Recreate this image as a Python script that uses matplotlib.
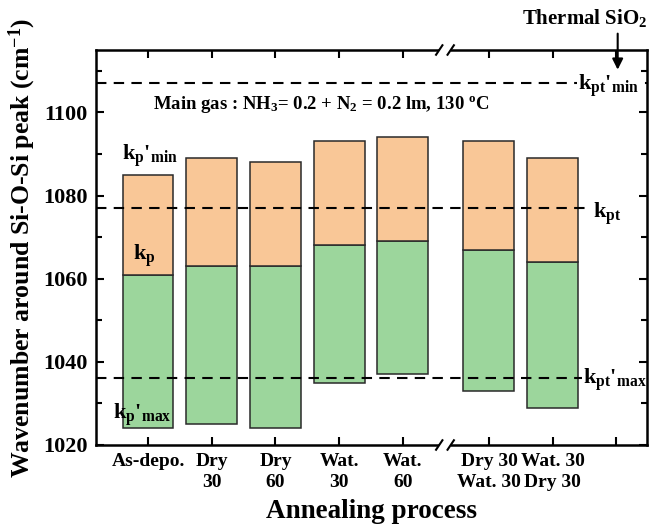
import numpy as np
import matplotlib; matplotlib.use('Agg')
import matplotlib.pyplot as plt
from matplotlib.ticker import MultipleLocator

plt.rcParams['font.family'] = ['Liberation Serif', 'DejaVu Serif']
plt.rcParams['font.weight'] = 'bold'
plt.rcParams['axes.labelweight'] = 'bold'
plt.rcParams['mathtext.fontset'] = 'custom'
plt.rcParams['mathtext.rm'] = 'Liberation Serif:bold'
plt.rcParams['mathtext.it'] = 'Liberation Serif:bold'
plt.rcParams['mathtext.bf'] = 'Liberation Serif:bold'

# ── data ─────────────────────────────────────────────────────────────────────
categories = ['As-depo.', 'Dry\n30', 'Dry\n60', 'Wat.\n30', 'Wat.\n60',
              'Dry 30\nWat. 30', 'Wat. 30\nDry 30', '']
kp_max = [1024, 1025, 1024, 1035, 1037, 1033, 1029]   # bottom of green
kp     = [1061, 1063, 1063, 1068, 1069, 1067, 1064]   # green / orange boundary
kp_min = [1085, 1089, 1088, 1093, 1094, 1093, 1089]   # top of orange

kpt_min_thermal = 1107
kpt_thermal     = 1077
kpt_max_thermal = 1036

# x positions (axis is broken between the 5th and 6th group)
xpos = np.array([1, 2, 3, 4, 5, 6.35, 7.35, 8.35])
BREAK_X = 5.66

ORANGE = '#F9C797'
GREEN  = '#9CD69C'
EDGE   = '#2a2a2a'

fig = plt.figure(figsize=(6.51, 5.29), dpi=100)
ax = fig.add_axes([96/651, 84/529, 551/651, 395/529])

n = len(kp)
xb = xpos[:n]
low = np.array(kp_max); mid = np.array(kp); high = np.array(kp_min)
ax.bar(xb, mid - low, bottom=low, width=0.8, color=GREEN, edgecolor=EDGE, lw=1.1, zorder=2)
ax.bar(xb, high - mid, bottom=mid, width=0.8, color=ORANGE, edgecolor=EDGE, lw=1.1, zorder=2)

# reference lines (thermal SiO2)
dash = (5, 3.5)
ax.axhline(kpt_min_thermal, color='k', lw=1.5, ls=(0, dash), zorder=1)
ax.axhline(kpt_thermal, xmax=0.897, color='k', lw=1.5, ls=(0, dash), zorder=3)
ax.axhline(kpt_max_thermal, xmax=0.882, color='k', lw=1.5, ls=(0, dash), zorder=3)

ax.set_xlim(0.184, 8.83)
ax.set_ylim(1020, 1115)

ax.set_xticks(xpos)
ax.set_xticklabels(categories, fontsize=14, linespacing=1.25)
ax.yaxis.set_major_locator(MultipleLocator(20))
ax.yaxis.set_minor_locator(MultipleLocator(10))
ax.tick_params(axis='both', which='both', direction='in', top=True, right=True, width=1.5)
ax.tick_params(axis='both', which='major', length=6, pad=6)
ax.tick_params(axis='y', which='major', labelsize=16)
ax.tick_params(axis='y', which='minor', length=4)
for sp in ax.spines.values():
    sp.set_linewidth(1.8)

ax.set_ylabel('Wavenumber around Si-O-Si peak (cm$^{-1}$)', fontsize=18.5, labelpad=4)
ax.set_xlabel('Annealing process', fontsize=19.5, labelpad=6)

# axis break marks on top and bottom spines
tr = ax.get_xaxis_transform()
for yy in (0, 1):
    ax.plot([BREAK_X - 0.1, BREAK_X + 0.1], [yy, yy], color='white', lw=4,
            transform=tr, clip_on=False, zorder=5, solid_capstyle='butt')
    for dx in (-0.09, 0.09):
        ax.plot([BREAK_X + dx - 0.05, BREAK_X + dx + 0.05], [yy - 0.012, yy + 0.012],
                color='k', lw=1.5, transform=tr, clip_on=False, zorder=6)

# annotations
ax.text(1.08, 1102, 'Main gas : NH$_3$= 0.2 + N$_2$ = 0.2 lm, 130 $^o$C',
        fontsize=13.5, va='center', ha='left')
ax.text(0.59, 1089.5, "k$_p$'$_{min}$", fontsize=16, va='center', ha='left')
ax.text(0.765, 1065.5, 'k$_p$', fontsize=16, va='center', ha='left')
ax.text(0.45, 1027.2, "k$_p$'$_{max}$", fontsize=16, va='center', ha='left', zorder=4)
ax.text(7.745, 1106.4, "k$_{pt}$'$_{min}$", fontsize=16, va='center', ha='left',
        bbox=dict(facecolor='white', edgecolor='none', pad=1), zorder=4)
ax.text(7.98, 1075.7, 'k$_{pt}$', fontsize=16, va='center', ha='left')
ax.text(7.82, 1035.8, "k$_{pt}$'$_{max}$", fontsize=16, va='center', ha='left')

ax.annotate('', xy=(8.37, 1109.6), xytext=(8.37, 1119.6),
            arrowprops=dict(arrowstyle='-|>', color='k', lw=1.5, mutation_scale=16))
fig.text(647/651, 1 - 18/529, 'Thermal SiO$_2$', fontsize=15, ha='right', va='center')

fig.savefig('out.png', dpi=100)
